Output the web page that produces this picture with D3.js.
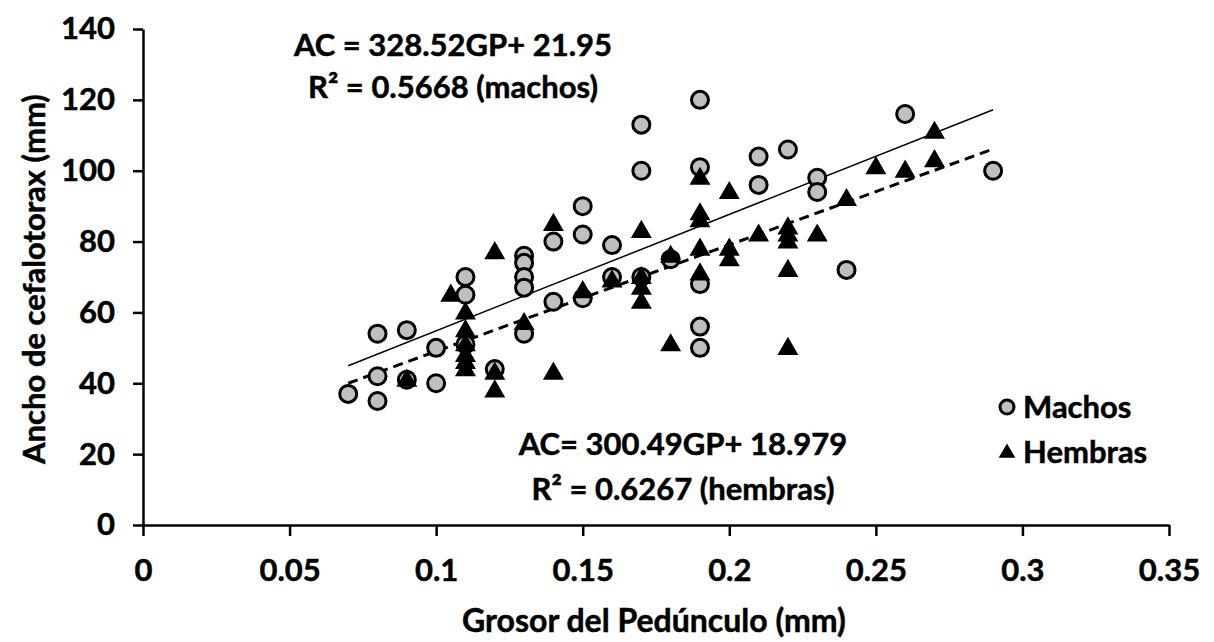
<!DOCTYPE html>
<html>
<head>
<meta charset="utf-8">
<script src="https://cdn.jsdelivr.net/npm/d3@7"></script>
<style>
  body { margin: 0; background: #fff; }
  text { font-family: Lato, "Open Sans", sans-serif; font-weight: bold; fill: #000;
         stroke: #000; stroke-width: 0.5px; }
</style>
</head>
<body>
<svg id="chart" width="1214" height="642"></svg>
<script>
// machos (circles)
var machosX = [0.07, 0.08, 0.08, 0.08, 0.09, 0.09, 0.1, 0.1, 0.11, 0.11, 0.11, 0.12,
               0.13, 0.13, 0.13, 0.13, 0.13, 0.14, 0.14, 0.15, 0.15, 0.15, 0.16, 0.16,
               0.17, 0.17, 0.17, 0.18, 0.19, 0.19, 0.19, 0.19, 0.19, 0.21, 0.21, 0.22,
               0.23, 0.23, 0.24, 0.26, 0.29];
var machosY = [37, 54, 42, 35, 55, 41, 50, 40, 70, 65, 51, 44,
               76, 74, 70, 67, 54, 80, 63, 90, 82, 64, 79, 70,
               113, 100, 70, 75, 120, 101, 68, 56, 50, 104, 96, 106,
               98, 94, 72, 116, 100];

// hembras (triangles)
var hembrasX = [0.09, 0.105, 0.11, 0.11, 0.11, 0.11, 0.11, 0.11, 0.12, 0.12, 0.12,
                0.13, 0.14, 0.14, 0.15, 0.16, 0.17, 0.17, 0.17, 0.17, 0.18, 0.18,
                0.19, 0.19, 0.19, 0.19, 0.19, 0.2, 0.2, 0.2, 0.21, 0.22, 0.22, 0.22,
                0.22, 0.22, 0.23, 0.24, 0.25, 0.26, 0.27, 0.27];
var hembrasY = [41, 65, 60, 55, 51, 48, 46, 44, 77, 43, 38,
                57, 85, 43, 66, 69, 83, 70, 67, 63, 76, 51,
                98, 88, 86, 78, 71, 94, 78, 75, 82, 84, 82, 80,
                72, 50, 82, 92, 101, 100, 111, 103];

// fitted lines
var fitMachos = {slope: 328.52, icpt: 21.95, from: 0.07, to: 0.29};
var fitHembras = {slope: 300.49, icpt: 18.979, from: 0.07, to: 0.29};

var xTicks = [0, 0.05, 0.1, 0.15, 0.2, 0.25, 0.3, 0.35];
var yTicks = [0, 20, 40, 60, 80, 100, 120, 140];

var fs = '31px';
var margin = {top: 29, right: 45, bottom: 117, left: 143};
var svg = d3.select('#chart');
var W = 1214 - margin.left - margin.right,
    H = 642 - margin.top - margin.bottom;

var x = d3.scaleLinear().domain([0, 0.35]).range([0, W]);
var y = d3.scaleLinear().domain([0, 140]).range([H, 0]);

var g = svg.append('g').attr('transform', 'translate(' + margin.left + ',' + margin.top + ')');

// axes
var xAxis = g.append('g')
  .attr('transform', 'translate(0,' + H + ')')
  .call(d3.axisBottom(x).tickValues(xTicks).tickSize(11).tickSizeOuter(0).tickPadding(23)
        .tickFormat(d => d3.format('~g')(d)));
var yAxis = g.append('g')
  .call(d3.axisLeft(y).tickValues(yTicks).tickSize(10).tickSizeOuter(0).tickPadding(18));

[xAxis, yAxis].forEach(a => {
  a.selectAll('path, line').attr('stroke', '#000').attr('stroke-width', 2.5);
  a.selectAll('text').style('font-size', fs).attr('font-family', null);
});

svg.append('text')
  .attr('x', margin.left + W / 2 - 2)
  .attr('y', 632)
  .attr('text-anchor', 'middle')
  .style('font-size', '32px')
  .text('Grosor del Pedúnculo (mm)');

svg.append('text')
  .attr('transform', 'translate(45,' + (margin.top + H / 2 + 2) + ') rotate(-90)')
  .attr('text-anchor', 'middle')
  .style('font-size', fs)
  .text('Ancho de cefalotorax (mm)');

// trend lines
function fitLine(f) {
  return [[f.from, f.slope * f.from + f.icpt], [f.to, f.slope * f.to + f.icpt]];
}
var line = d3.line().x(d => x(d[0])).y(d => y(d[1]));

g.append('path').datum(fitLine(fitMachos))
  .attr('d', line).attr('fill', 'none').attr('stroke', '#000').attr('stroke-width', 1.5);
g.append('path').datum(fitLine(fitHembras))
  .attr('d', line).attr('fill', 'none').attr('stroke', '#000').attr('stroke-width', 3)
  .attr('stroke-dasharray', '10,6');

// points
var machos = machosX.map((v, i) => [v, machosY[i]]);
var hembras = hembrasX.map((v, i) => [v, hembrasY[i]]);

g.selectAll('circle.m').data(machos).enter().append('circle')
  .attr('class', 'm')
  .attr('cx', d => x(d[0])).attr('cy', d => y(d[1]))
  .attr('r', 8.5)
  .attr('fill', '#bfbfbf').attr('stroke', '#000').attr('stroke-width', 3);

var tri = d3.symbol().type(d3.symbolTriangle).size(190);
g.selectAll('path.h').data(hembras).enter().append('path')
  .attr('class', 'h')
  .attr('transform', d => 'translate(' + x(d[0]) + ',' + (y(d[1]) + 1) + ')')
  .attr('d', tri)
  .attr('fill', '#000');

// equations
function eq(cx, y0, lines, gap) {
  lines.forEach((t, i) => {
    svg.append('text').attr('x', cx).attr('y', y0 + i * gap)
      .attr('text-anchor', 'middle').style('font-size', fs).text(t);
  });
}
eq(453, 56, ['AC = 328.52GP+ 21.95', 'R² = 0.5668 (machos)'], 42);
eq(683, 455, ['AC= 300.49GP+ 18.979', 'R² = 0.6267 (hembras)'], 45);

// legend
var leg = svg.append('g');
leg.append('circle').attr('cx', 1007).attr('cy', 407).attr('r', 7)
  .attr('fill', '#bfbfbf').attr('stroke', '#000').attr('stroke-width', 3);
leg.append('path').attr('transform', 'translate(1007,453)')
  .attr('d', d3.symbol().type(d3.symbolTriangle).size(120)).attr('fill', '#000');
leg.append('text').attr('x', 1023).attr('y', 418).style('font-size', fs).text('Machos');
leg.append('text').attr('x', 1023).attr('y', 463).style('font-size', fs).text('Hembras');
</script>
</body>
</html>
